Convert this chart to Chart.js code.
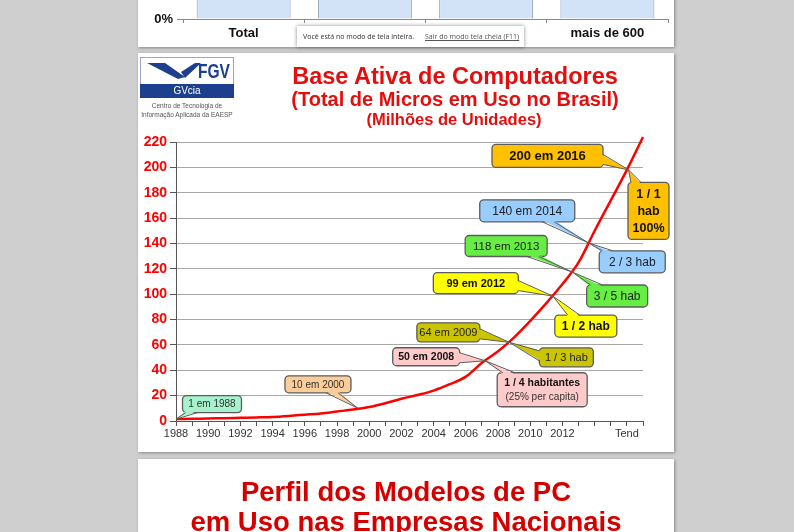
<!DOCTYPE html>
<html>
<head>
<meta charset="utf-8">
<script src="https://cdn.jsdelivr.net/npm/chart.js@4.4.1/dist/chart.umd.min.js"></script>
<style>
  body { margin: 0; width: 794px; height: 532px; background: #cfcfcf; overflow: hidden; position: relative;
         font-family: "Liberation Sans", Arial, sans-serif; }
  .panel { position: absolute; left: 138px; width: 536px; background: #fff; overflow: hidden;
           box-shadow: 1px 1px 3px rgba(0,0,0,0.35); }
  .t { position: absolute; white-space: nowrap; font-weight: bold; transform: translateX(-50%); }
  .red { color: #e30f0f; }
  #notice { position: absolute; left: 297px; top: 26px; width: 227px; height: 21px; background: #fff;
            box-shadow: 0 0 4px rgba(0,0,0,0.45); font-family: "Open Sans", sans-serif; font-size: 7px; color: #333; }
  #notice span { position: absolute; top: 6px; }
  #logo { position: absolute; left: 2px; top: 4px; width: 94px; }
</style>
</head>
<body>

<div class="panel" style="top:-10px;height:57px">
  <canvas id="topChart" width="536" height="197" style="position:absolute;left:0;top:-140px"></canvas>
</div>
<div id="notice">
  <span style="left:6px">Você está no modo de tela inteira.</span>
  <span style="left:128px;text-decoration:underline;color:#555">Sair do modo tela cheia (F11)</span>
</div>

<div class="panel" style="top:53px;height:399px">
  <canvas id="chart" width="536" height="399" style="position:absolute;left:0;top:0"></canvas>
  <div id="logo">
    <div style="height:26px;border:1px solid #9aa6c4;border-bottom:none;position:relative">
      <svg width="60" height="24" style="position:absolute;left:4px;top:2px">
        <polygon points="2,3 20,3 40,17 33,19" fill="#1d3f8e"/>
        <polygon points="36,12 50,3 56,3 40,18" fill="#1d3f8e"/>
      </svg>
      <div style="position:absolute;left:57px;top:1px;font:bold 21px 'Liberation Sans',sans-serif;color:#1d3f8e;transform:scaleX(0.74);transform-origin:0 0">FGV</div>
    </div>
    <div style="height:14px;background:#1d3f8e;color:#fff;font-size:10px;text-align:center;line-height:14px">GVcia</div>
    <div style="font-size:6.5px;color:#555;text-align:center;line-height:9px;margin-top:3px">Centro de Tecnologia de<br>Informação Aplicada da EAESP</div>
  </div>
  <div class="t red" style="left:317px;top:10px;font-size:23.5px">Base Ativa de Computadores</div>
  <div class="t red" style="left:317px;top:35px;font-size:20px">(Total de Micros em Uso no Brasil)</div>
  <div class="t red" style="left:316px;top:57px;font-size:16.5px">(Milhões de Unidades)</div>
</div>

<div class="panel" style="top:459px;height:90px">
  <div class="t" style="left:268px;top:17px;font-size:27.5px;color:#d40000">Perfil dos Modelos de PC</div>
  <div class="t" style="left:268px;top:47px;font-size:27.5px;color:#d40000">em Uso nas Empresas Nacionais</div>
</div>

<script>
// Base ativa de computadores, milhões de unidades
const years = [1988, 1989, 1990, 1991, 1992, 1993, 1994, 1995, 1996, 1997,
               1998, 1999, 2000, 2001, 2002, 2003, 2004, 2005, 2006, 2007,
               2008, 2009, 2010, 2011, 2012, 2013, 2014, 2015, 2016, 2017];
const units = [1.5, 1.7, 2, 2.2, 2.5, 2.8, 3.2, 4, 5, 6,
               7.5, 9, 11, 14, 17.5, 20.5, 24, 29, 35, 46,
               55, 66, 79, 93, 108, 125, 150, 174, 198, 224];
const yMax = 220;
const tendYear = 2016;

// slide anterior (cortado no topo)
const topCategories = ["Total", "", "", "mais de 600"];
const topValues = [60, 50, 45, 40];

// balões: ponto no gráfico (ano, valor) + deslocamento da caixa em px
const callouts = [
  { at: [1988, 1.5], dx: 36, dy: -15, w: 59, h: 17, fill: "#a6f2cc", lines: [["1 em 1988", "10px", "#333"]] },
  { at: [1999.3, 10], dx: -40, dy: -24, w: 66, h: 17, fill: "#fbcd98", lines: [["10 em 2000", "10px", "#333"]] },
  { at: [2007.2, 47.5], dx: -59, dy: -4, w: 67, h: 18, fill: "#ffcaca", lines: [["50 em 2008", "bold 10.5px", "#111"]] },
  { at: [2007.2, 47.5], dx: 57, dy: 29, w: 90, h: 34, fill: "#ffcaca",
    lines: [["1 / 4 habitantes", "bold 10.5px", "#111"], ["(25% per capita)", "10px", "#333"]] },
  { at: [2008.7, 62], dx: -61, dy: -10, w: 63, h: 19, fill: "#cbc400", lines: [["64 em 2009", "11px", "#222"]] },
  { at: [2008.7, 62], dx: 57, dy: 15, w: 54, h: 19, fill: "#cbc400", lines: [["1 / 3 hab", "11px", "#222"]] },
  { at: [2011.4, 98.5], dx: -77, dy: -13, w: 85, h: 21, fill: "#ffff00", lines: [["99 em 2012", "bold 11px", "#111"]] },
  { at: [2011.4, 98.5], dx: 33, dy: 30, w: 62, h: 22, fill: "#ffff00", lines: [["1 / 2 hab", "bold 12px", "#111"]] },
  { at: [2012.6, 117.5], dx: -66, dy: -26, w: 82, h: 21, fill: "#66ee44", lines: [["118 em 2013", "11.5px", "#222"]] },
  { at: [2012.6, 117.5], dx: 45, dy: 24, w: 61, h: 22, fill: "#66ee44", lines: [["3 / 5 hab", "12px", "#222"]] },
  { at: [2013.6, 140.5], dx: -61, dy: -32, w: 95, h: 22, fill: "#99ccff", lines: [["140 em 2014", "12px", "#222"]] },
  { at: [2013.6, 140.5], dx: 44, dy: 19, w: 66, h: 22, fill: "#99ccff", lines: [["2 / 3 hab", "12px", "#222"]] },
  { at: [2016.1, 198], dx: -81, dy: -14, w: 111, h: 23, fill: "#ffc000", lines: [["200 em 2016", "bold 13px", "#111"]] },
  { at: [2016.1, 198], dx: 20, dy: 41, w: 41, h: 57, fill: "#ffc000",
    lines: [["1 / 1", "bold 12.5px", "#111"], ["hab", "bold 12.5px", "#111"], ["100%", "bold 12.5px", "#111"]] }
];

const FONT = "'Liberation Sans', Arial, sans-serif";

function roundRect(ctx, x, y, w, h, r) {
  ctx.beginPath();
  ctx.moveTo(x + r, y);
  ctx.arcTo(x + w, y, x + w, y + h, r);
  ctx.arcTo(x + w, y + h, x, y + h, r);
  ctx.arcTo(x, y + h, x, y, r);
  ctx.arcTo(x, y, x + w, y, r);
  ctx.closePath();
}

const clamp = (v, a, b) => Math.max(a, Math.min(b, v));

const calloutPlugin = {
  id: "callouts",
  afterDatasetsDraw(chart) {
    const { ctx, scales: { x, y } } = chart;
    ctx.save();
    callouts.forEach(c => {
      const ax = x.getPixelForValue(c.at[0]), ay = y.getPixelForValue(c.at[1]);
      const cx = ax + c.dx, cy = ay + c.dy;
      const x0 = cx - c.w / 2, y0 = cy - c.h / 2;
      const ux = ax - cx, uy = ay - cy;
      const tx = Math.abs(ux) > 1e-6 ? (c.w / 2) / Math.abs(ux) : 1e9;
      const ty = Math.abs(uy) > 1e-6 ? (c.h / 2) / Math.abs(uy) : 1e9;
      const bw = 6;
      let p1, p2, q1, q2;
      if (tx < ty) {
        // sai pela lateral
        const ex = cx + Math.sign(ux) * c.w / 2;
        const ey = clamp(cy + uy * tx, y0 + 4 + bw / 2, y0 + c.h - 4 - bw / 2);
        const a = clamp(ey - bw, y0 + 3, y0 + c.h - 3), b = clamp(ey + bw, y0 + 3, y0 + c.h - 3);
        p1 = [ex, a]; p2 = [ex, b];
        q1 = [ex - Math.sign(ux) * 1.5, a]; q2 = [ex - Math.sign(ux) * 1.5, b];
      } else {
        const ey = cy + Math.sign(uy) * c.h / 2;
        const ex = clamp(cx + ux * ty, x0 + 4 + bw / 2, x0 + c.w - 4 - bw / 2);
        const a = clamp(ex - bw, x0 + 3, x0 + c.w - 3), b = clamp(ex + bw, x0 + 3, x0 + c.w - 3);
        p1 = [a, ey]; p2 = [b, ey];
        q1 = [a, ey - Math.sign(uy) * 1.5]; q2 = [b, ey - Math.sign(uy) * 1.5];
      }

      ctx.lineWidth = 1.3;
      ctx.strokeStyle = "#5c5c5c";
      roundRect(ctx, x0, y0, c.w, c.h, 4);
      ctx.fillStyle = c.fill;
      ctx.fill();
      ctx.stroke();

      ctx.beginPath();
      ctx.moveTo(q1[0], q1[1]);
      ctx.lineTo(ax, ay);
      ctx.lineTo(q2[0], q2[1]);
      ctx.closePath();
      ctx.fill();
      ctx.beginPath();
      ctx.moveTo(p1[0], p1[1]);
      ctx.lineTo(ax, ay);
      ctx.lineTo(p2[0], p2[1]);
      ctx.lineWidth = 1;
      ctx.stroke();

      ctx.textAlign = "center";
      ctx.textBaseline = "middle";
      const lh = c.lines.length > 1 ? (c.h - 6) / c.lines.length : 0;
      c.lines.forEach((l, i) => {
        ctx.font = l[1] + " " + FONT;
        ctx.fillStyle = l[2];
        const ly = cy + (i - (c.lines.length - 1) / 2) * lh + 0.5;
        ctx.fillText(l[0], cx, ly);
      });
    });
    ctx.restore();
  }
};

new Chart(document.getElementById("chart"), {
  type: "line",
  data: {
    datasets: [{
      data: years.map((yr, i) => ({ x: yr, y: units[i] })),
      borderColor: "#ff0000",
      borderWidth: 2.5,
      pointRadius: 0,
      cubicInterpolationMode: "monotone",
      clip: false
    }]
  },
  options: {
    responsive: false,
    animation: false,
    layout: { padding: { top: 89, right: 31, left: 0, bottom: 0 } },
    plugins: { legend: { display: false }, tooltip: { enabled: false } },
    scales: {
      x: {
        type: "linear",
        min: years[0],
        max: years[years.length - 1],
        afterFit: s => { s.height = 31; },
        border: { color: "#555", width: 1 },
        grid: { drawOnChartArea: false, tickLength: 5, tickColor: "#555" },
        ticks: {
          stepSize: 1, autoSkip: false, maxRotation: 0, padding: 1,
          color: "#333", font: { family: FONT, size: 11 },
          callback: v => v === tendYear ? "Tend" : (v % 2 === 0 && v <= 2012 ? String(v) : "")
        }
      },
      y: {
        min: 0,
        max: yMax,
        afterFit: s => { s.width = 38; },
        border: { color: "#555", width: 1 },
        grid: {
          color: c => c.tick.value % 20 === 0 ? "#a8a8a8" : "rgba(0,0,0,0)",
          tickColor: "#555",
          tickLength: 6
        },
        ticks: {
          stepSize: 10, padding: 3, color: "#ff0000",
          font: { family: FONT, size: 14, weight: "bold" },
          callback: v => v % 20 === 0 ? String(v) : ""
        }
      }
    }
  },
  plugins: [calloutPlugin]
});

new Chart(document.getElementById("topChart"), {
  type: "bar",
  data: {
    labels: topCategories,
    datasets: [{
      data: topValues,
      backgroundColor: "#d2e3f8",
      borderColor: "#8d9fb5",
      borderWidth: { left: 1, right: 1, top: 0, bottom: 0 },
      categoryPercentage: 1,
      barPercentage: 0.775
    }]
  },
  options: {
    responsive: false,
    animation: false,
    layout: { padding: { top: 0, right: 6, left: 0, bottom: 0 } },
    plugins: { legend: { display: false }, tooltip: { enabled: false } },
    scales: {
      x: {
        afterFit: s => { s.height = 28; },
        border: { color: "#8a8a8a" },
        grid: { drawOnChartArea: false, tickLength: 4, tickColor: "#8a8a8a" },
        ticks: { color: "#111", padding: 3, font: { family: FONT, size: 13, weight: "bold" } }
      },
      y: {
        min: 0, max: 100,
        afterFit: s => { s.width = 45; },
        border: { display: false },
        grid: { drawOnChartArea: false, tickLength: 6, tickColor: "#8a8a8a" },
        ticks: { stepSize: 100, padding: 4, color: "#111", font: { family: FONT, size: 13, weight: "bold" },
                 callback: v => v + "%" }
      }
    }
  }
});
</script>
</body>
</html>
